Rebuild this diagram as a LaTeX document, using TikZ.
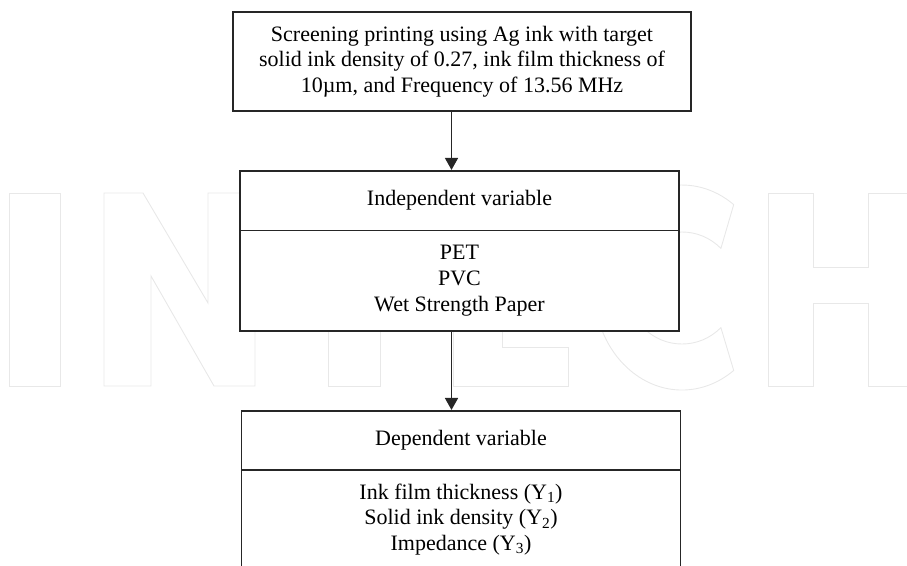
\documentclass[tikz,border=0pt]{standalone}
\usepackage{fontspec}
\setmainfont{Liberation Serif}
\usetikzlibrary{arrows.meta}
\begin{document}
\begin{tikzpicture}[x=1pt,y=-1pt,
  wm/.style={draw=black!9, line width=0.9pt},
  box/.style={draw=black!85, line width=1.6pt, fill=white, inner sep=0pt},
  txt/.style={font=\fontsize{22}{25.6}\selectfont, align=center, inner sep=0pt},
  arr/.style={draw=black!85, line width=1.7pt, -{Triangle[length=12pt,width=13pt]}}]
\useasboundingbox (0,0) rectangle (907,565);
\clip (0,0) rectangle (907,565);
% watermark
\draw[wm] (9,193) rectangle (60,386);
\draw[wm] (104,193) -- (143,193) -- (208,303) -- (208,193) -- (255,193) -- (255,386) -- (214,386) -- (151,276) -- (151,386) -- (104,386) -- cycle;
\draw[wm] (284,193) -- (424,193) -- (424,240) -- (380,240) -- (380,386) -- (328,386) -- (328,240) -- (284,240) -- cycle;
\draw[wm] (453,193) -- (565,193) -- (565,238) -- (502,238) -- (502,266) -- (558,266) -- (558,306) -- (502,306) -- (502,347) -- (568,347) -- (568,386) -- (453,386) -- cycle;
\draw[wm] (733.7,204.6) arc[start angle=54, end angle=306, x radius=88pt, y radius=102.5pt] -- (720.9,327.6) arc[start angle=-45, end angle=-315, x radius=55pt, y radius=56pt] -- cycle;
\draw[wm] (768,193) -- (813,193) -- (813,267) -- (868,267) -- (868,193) -- (913,193) -- (913,386) -- (868,386) -- (868,303) -- (813,303) -- (813,386) -- (768,386) -- cycle;
% boxes
\node[box, txt, minimum width=458pt, minimum height=98.7pt] (top) at (462,61.4)
  {Screening printing using Ag ink with target\\solid ink density of 0.27, ink film thickness of\\10µm, and Frequency of 13.56 MHz};
\node[box, txt, minimum width=439pt, minimum height=59.8pt] (indh) at (459.5,200.6) {Independent variable};
\node[box, txt, minimum width=439pt, minimum height=100.2pt] (indb) at (459.5,280.6) {PET\\PVC\\Wet Strength Paper};
\node[box, txt, minimum width=439pt, minimum height=59.3pt] (deph) at (461,440.4) {Dependent variable};
\node[box, minimum width=439pt, minimum height=130pt] (depb) at (461,535) {};
\node[txt] (deptxt) at (461,519.5) {Ink film thickness (Y\textsubscript{1})\\Solid ink density (Y\textsubscript{2})\\Impedance (Y\textsubscript{3})};
% connectors
\coordinate (ax) at (451.5,0);
\draw[arr] (top.south -| ax) -- (indh.north -| ax);
\draw[arr] (indb.south -| ax) -- (deph.north -| ax);
\end{tikzpicture}
\end{document}
